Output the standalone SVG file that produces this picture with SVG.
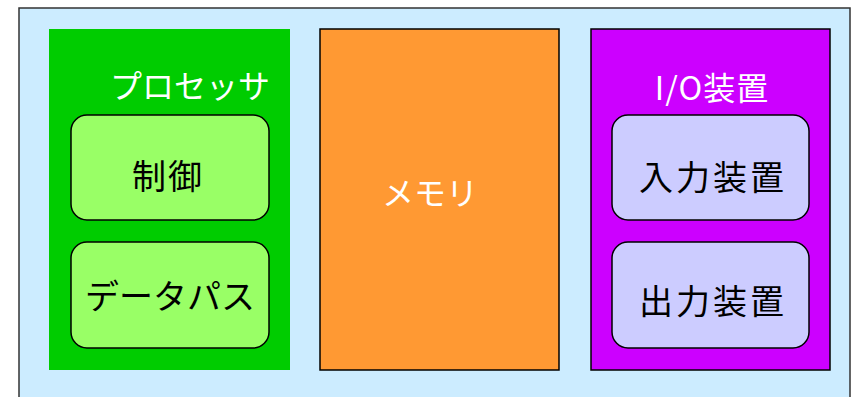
<svg xmlns="http://www.w3.org/2000/svg" width="856" height="397" viewBox="0 0 856 397">
<style>
text{font-family:"Noto Sans CJK JP","Noto Sans",sans-serif;text-anchor:middle}
.w{fill:#ffffff;font-size:32px}
.b{fill:#000000;font-size:34px}
.sub{stroke:#000;stroke-width:1.5}
</style>
<rect x="19" y="8" width="831" height="400" fill="#CCECFF" stroke="#333" stroke-width="1.5"/>
<g id="processor">
<rect x="49" y="29" width="241" height="341" fill="#00CC00"/>
<text class="w" x="190" y="98" font-size="33">プロセッサ</text>
</g>
<g id="control">
<rect class="sub" x="71" y="115" width="198" height="105" rx="16" fill="#99FF66"/>
<text class="b" x="168" y="189" letter-spacing="2">制御</text>
</g>
<g id="datapath">
<rect class="sub" x="71" y="242" width="198" height="106" rx="16" fill="#99FF66"/>
<text class="b" x="170" y="309" font-size="35">データパス</text>
</g>
<g id="memory">
<rect x="320" y="29" width="239" height="341" fill="#FF9933" stroke="#000" stroke-width="1.5"/>
<text class="w" x="430" y="205" font-size="30">メモリ</text>
</g>
<g id="io">
<rect x="591" y="29" width="239" height="341" fill="#CC00FF" stroke="#000" stroke-width="1.5"/>
<text class="w" x="712" y="100" font-size="34" letter-spacing="1">I/O装置</text>
</g>
<g id="input">
<rect class="sub" x="612" y="115" width="197" height="105" rx="16" fill="#CCCCFF"/>
<text class="b" x="713" y="190" letter-spacing="3">入力装置</text>
</g>
<g id="output">
<rect class="sub" x="612" y="242" width="197" height="106" rx="16" fill="#CCCCFF"/>
<text class="b" x="713" y="314" letter-spacing="3">出力装置</text>
</g>
<g id="connectors"/>
</svg>
